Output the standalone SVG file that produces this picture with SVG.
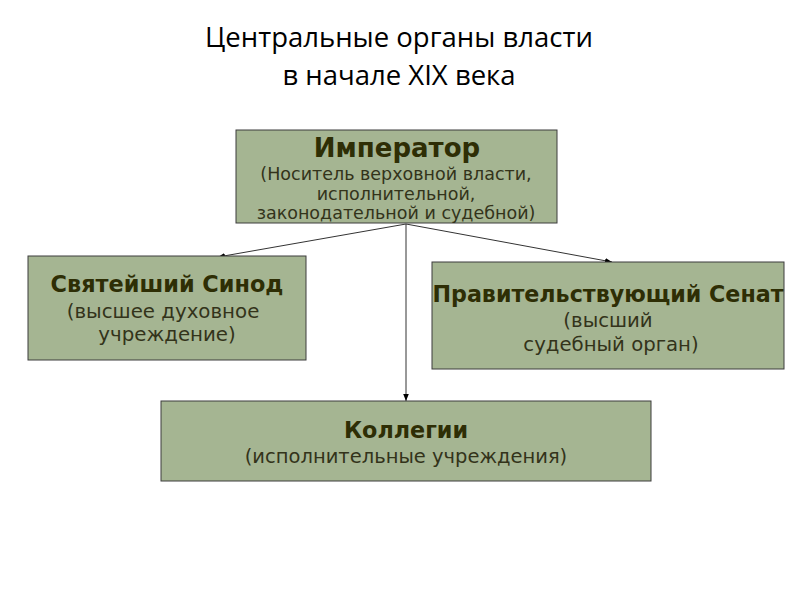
<svg xmlns="http://www.w3.org/2000/svg" width="800" height="600" viewBox="0 0 800 600">
<defs>
<style>
.box{fill:#a5b592;stroke:#3c3c3c;stroke-width:1}
.title{font-family:"Open Sans","Liberation Sans",sans-serif;font-size:27.5px;fill:#000;text-anchor:middle}
.h{font-family:"DejaVu Sans",Verdana,sans-serif;font-weight:bold;fill:#2e2e05;text-anchor:middle}
.s{font-family:"DejaVu Sans",Verdana,sans-serif;fill:#33331a;text-anchor:middle}
.c{stroke:#333;stroke-width:1;fill:none;marker-end:url(#arr)}
</style>
<marker id="arr" viewBox="0 0 10 10" refX="10" refY="5" markerWidth="7" markerHeight="7" orient="auto" markerUnits="userSpaceOnUse">
<path d="M0,1 L10,5 L0,9 z" fill="#000"/>
</marker>
</defs>
<rect width="800" height="600" fill="#fff"/>
<text class="title" x="399" y="47">Центральные органы власти</text>
<text class="title" x="399" y="85">в начале XIX века</text>
<g id="connectors">
<line class="c" x1="406" y1="224" x2="218" y2="257"/>
<line class="c" x1="406" y1="224" x2="612" y2="262"/>
<line class="c" x1="406" y1="224" x2="406" y2="401"/>
</g>
<g id="emperor">
<rect class="box" x="236" y="130" width="321" height="93"/>
<text class="h" x="397" y="157" font-size="26">Император</text>
<text class="s" x="396" y="180" font-size="17.5">(Носитель верховной власти,</text>
<text class="s" x="396" y="200" font-size="17.5">исполнительной,</text>
<text class="s" x="396" y="219" font-size="17.5">законодательной и судебной)</text>
</g>
<g id="synod">
<rect class="box" x="28" y="256" width="278" height="104"/>
<text class="h" x="167" y="292" font-size="22.4">Святейший Синод</text>
<text class="s" x="163" y="318" font-size="19.8">(высшее духовное</text>
<text class="s" x="167" y="341" font-size="19.8">учреждение)</text>
</g>
<g id="senate">
<rect class="box" x="432" y="262" width="352" height="107"/>
<text class="h" x="608" y="302" font-size="22.2">Правительствующий Сенат</text>
<text class="s" x="608" y="327" font-size="19.7">(высший</text>
<text class="s" x="611" y="351" font-size="19.7">судебный орган)</text>
</g>
<g id="collegia">
<rect class="box" x="161" y="401" width="490" height="80"/>
<text class="h" x="406" y="438" font-size="22.3">Коллегии</text>
<text class="s" x="406" y="463" font-size="19.5">(исполнительные учреждения)</text>
</g>
</svg>
